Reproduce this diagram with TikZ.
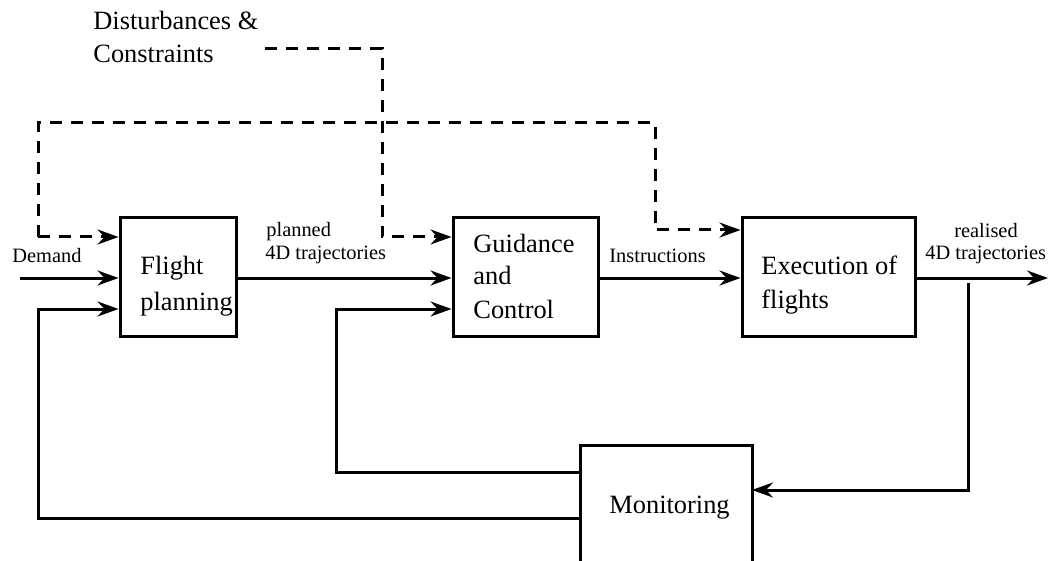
\documentclass[tikz,border=0pt]{standalone}
\usepackage{fontspec}
\setmainfont{Liberation Serif}
\newfontfamily\tnr{Liberation Serif}
\usetikzlibrary{arrows.meta}
\tikzset{
  ln/.style={line width=1.5pt},
  arr/.style={ln,-{Stealth[length=10.5pt,width=7.5pt,inset=3.5pt]}},
  dashline/.style={ln,dash pattern=on 6pt off 4.5pt},
  darr/.style={dashline,-{Stealth[length=10.5pt,width=7.5pt,inset=3.5pt]}},
  box/.style={draw,ln,rectangle,inner sep=0pt},
  big/.style={inner sep=0pt,anchor=base west,font=\tnr\fontsize{13.2}{17}\selectfont},
  small/.style={inner sep=0pt,anchor=base west,font=\tnr\fontsize{10.2}{11}\selectfont},
}
\begin{document}
\begin{tikzpicture}[x=0.5pt,y=-0.5pt]
\clip (0,0) rectangle (1054,561);
\fill[white] (0,0) rectangle (1054,561);
% boxes
\node[box,minimum width=58pt,minimum height=59pt] (fp) at (178,277) {};
\node[box,minimum width=72.5pt,minimum height=59pt] (gc) at (525.5,277) {};
\node[box,minimum width=86.5pt,minimum height=59pt] (ex) at (828.5,277) {};
\node[box,minimum width=86pt,minimum height=60pt] (mon) at (666,505) {};
% box texts
\node[big] (t1) at (140,275) {Flight};
\node[big] (t2) at (140,310) {planning};
\node[big] (t3) at (473,252) {Guidance};
\node[big] (t4) at (473,285) {and};
\node[big] (t5) at (473,318) {Control};
\node[big] (t6) at (761,275) {Execution of};
\node[big] (t7) at (761,308) {flights};
\node[big] (t8) at (609,513) {Monitoring};
\node[big] (t9) at (93,30) {Disturbances \&};
\node[big] (t10) at (93,63) {Constraints};
% labels
\node[small] (l1) at (12,263) {Demand};
\node[small] (l2) at (266,237) {planned};
\node[small] (l3) at (265,259) {4D trajectories};
\node[small] (l4) at (609,263) {Instructions};
\node[small,anchor=base] (l5) at (986,238) {realised};
\node[small] (l6) at (925,260) {4D trajectories};
% coordinates
\coordinate (dem) at (20,278);
\coordinate (out) at (1048,278);
\coordinate (fbtop) at (968,283);
\coordinate (fbin) at (752,490);
\coordinate (m1) at (580,472);
\coordinate (g1) at (336,309);
\coordinate (m2) at (580,518);
\coordinate (f1) at (38,309);
\coordinate (dstart) at (265,49);
\coordinate (dcorner) at (382,237);
\coordinate (lstart) at (38,237);
\coordinate (rtop) at (655,123);
\coordinate (rdown) at (655,230);
% solid connectors
\draw[arr] (dem) -- (dem -| fp.west);
\draw[arr] (fp.east |- dem) -- (gc.west |- dem);
\draw[arr] (gc.east |- dem) -- (ex.west |- dem);
\draw[arr] (ex.east |- dem) -- (out);
\draw[arr] (fbtop) |- (fbin);
\draw[arr] (m1) -| (g1) -- (g1 -| gc.west);
\draw[arr] (m2) -| (f1) -- (f1 -| fp.west);
% dashed connectors
\draw[darr] (dstart) -| (dcorner) -- (dcorner -| gc.west);
\draw[darr] (lstart) |- (rtop) |- (rdown -| ex.west);
\draw[darr] (lstart) -- (lstart -| fp.west);
\end{tikzpicture}
\end{document}
